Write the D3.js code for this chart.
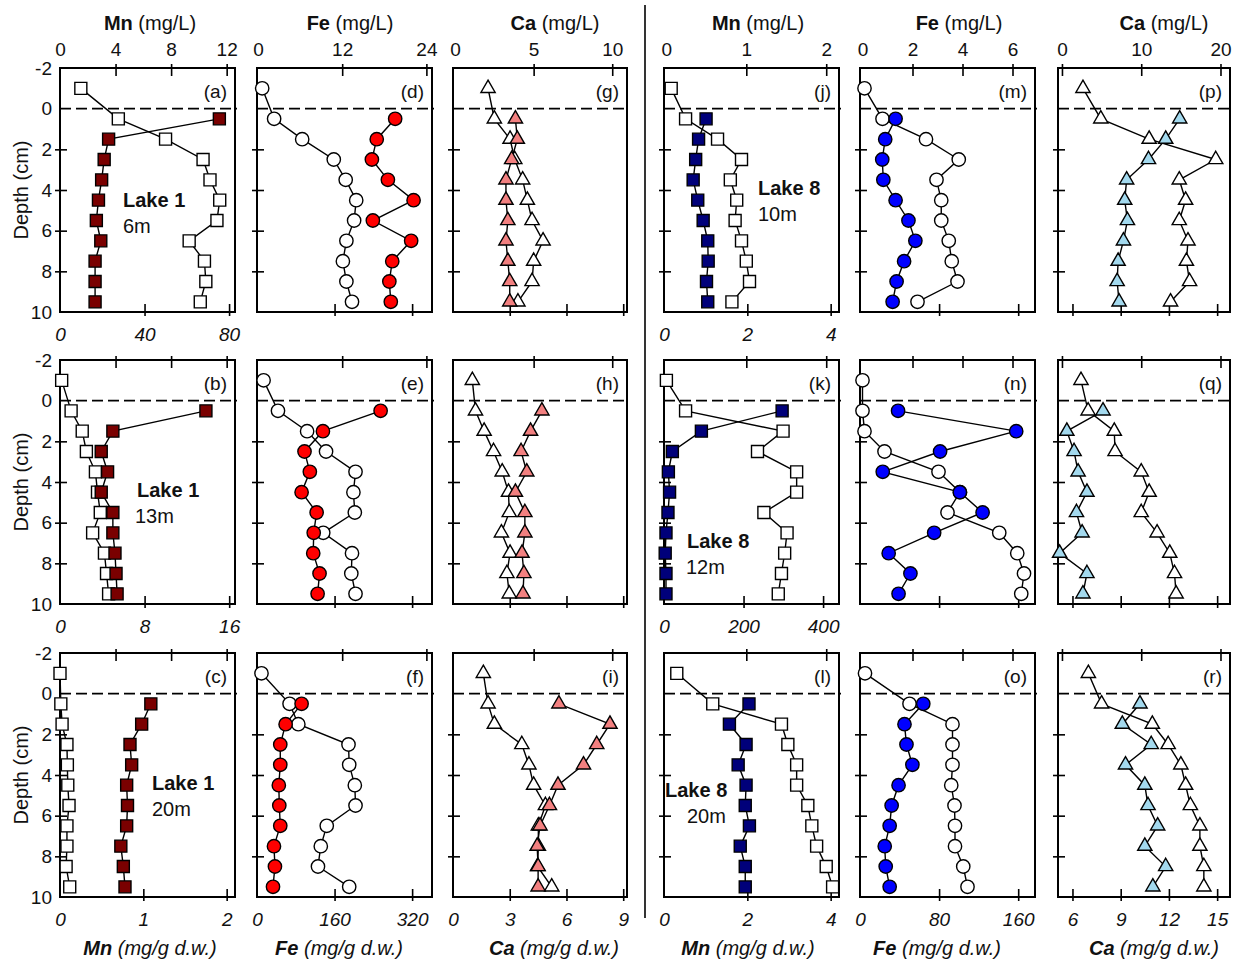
<!DOCTYPE html>
<html>
<head>
<meta charset="utf-8">
<script src="https://cdn.jsdelivr.net/npm/d3@7"></script>
<style>
  body { margin: 0; background: #fff; }
  svg text { font-family: "Liberation Sans", Arial, Helvetica, sans-serif; fill: #111; }
</style>
</head>
<body>
<div id="chart"></div>
<script>
// sampling depths (cm); porewater has an extra overlying-water sample at -1 cm
const depthPore = [-1, 0.5, 1.5, 2.5, 3.5, 4.5, 5.5, 6.5, 7.5, 8.5, 9.5];
const depthSed = [0.5, 1.5, 2.5, 3.5, 4.5, 5.5, 6.5, 7.5, 8.5, 9.5];

// Lake 1, 6 m  (pore = open symbols / top axis, sed = filled symbols / bottom axis)
const l1m6MnPore = [1.5, 4.2, 7.6, 10.3, 10.8, 11.5, 11.3, 9.3, 10.4, 10.5, 10.1];
const l1m6MnSed = [75.4, 23, 20.9, 19.7, 18.2, 17.2, 19.3, 16.6, 16.6, 16.6];
const l1m6FePore = [0.6, 2.3, 6.3, 10.8, 12.5, 14.0, 13.7, 12.6, 12.1, 12.6, 13.4];
const l1m6FeSed = [285, 247, 237, 270, 323, 239, 318, 279, 273, 276];
const l1m6CaPore = [2.1, 2.5, 3.5, 3.8, 4.3, 4.6, 4.9, 5.6, 5.0, 4.9, 4.0];
const l1m6CaSed = [3.3, 3.4, 3.1, 2.8, 2.8, 2.9, 2.8, 2.9, 3.0, 3.0];

// Lake 1, 13 m
const l1m13MnPore = [0.12, 0.8, 1.6, 1.9, 2.55, 2.7, 2.9, 2.35, 3.2, 3.35, 3.5];
const l1m13MnSed = [13.8, 5.0, 3.9, 4.5, 3.9, 5.0, 5.0, 5.2, 5.3, 5.4];
const l1m13FePore = [0.8, 2.85, 7.0, 9.7, 13.9, 13.6, 13.8, 9.3, 13.4, 13.3, 13.9];
const l1m13FeSed = [255, 136, 98, 109, 92, 123, 117, 116, 129, 125];
const l1m13CaPore = [1.1, 1.3, 1.85, 2.45, 3.0, 3.4, 3.45, 2.95, 3.5, 3.3, 3.45];
const l1m13CaSed = [4.7, 4.1, 3.6, 3.9, 3.3, 3.8, 3.8, 3.65, 3.75, 3.7];

// Lake 1, 20 m
const l1m20MnPore = [0, 0.06, 0.15, 0.5, 0.53, 0.56, 0.65, 0.5, 0.5, 0.44, 0.7];
const l1m20MnSed = [1.09, 0.98, 0.84, 0.86, 0.80, 0.81, 0.80, 0.73, 0.76, 0.78];
const l1m20FePore = [0.5, 4.5, 5.75, 12.9, 13.0, 13.8, 13.9, 9.8, 8.95, 8.55, 13.0];
const l1m20FeSed = [92, 59, 48, 48, 45, 46, 48, 35, 37, 33];
const l1m20CaPore = [1.8, 2.1, 2.5, 4.25, 4.7, 5.0, 5.75, 5.3, 5.3, 5.25, 6.15];
const l1m20CaSed = [5.6, 8.3, 7.6, 6.9, 5.55, 5.1, 4.6, 4.45, 4.5, 4.5];

// Lake 8, 10 m
const l8m10MnPore = [0.06, 0.24, 0.64, 0.94, 0.8, 0.88, 0.86, 0.94, 1.0, 1.04, 0.82];
const l8m10MnSed = [1.01, 0.83, 0.76, 0.70, 0.81, 0.94, 1.05, 1.06, 1.02, 1.05];
const l8m10FePore = [0.08, 0.8, 2.54, 3.85, 2.96, 3.15, 3.15, 3.45, 3.57, 3.8, 2.2];
const l8m10FeSed = [36, 25.5, 22.5, 23.6, 36, 49, 56, 44.6, 37, 33];
const l8m10CaPore = [2.65, 4.9, 11.0, 19.4, 14.8, 15.6, 14.8, 15.9, 15.7, 16.1, 13.7];
const l8m10CaSed = [12.67, 11.8, 10.73, 9.37, 9.25, 9.42, 9.17, 8.84, 8.78, 8.9];

// Lake 8, 12 m
const l8m12MnPore = [0, 0.24, 1.46, 1.14, 1.63, 1.63, 1.22, 1.51, 1.48, 1.44, 1.40];
const l8m12MnSed = [297, 94, 21, 11, 14, 10, 5, 3, 5, 5];
const l8m12FePore = [0, 0, 0.08, 0.88, 3.04, 3.9, 3.4, 5.47, 6.19, 6.46, 6.35];
const l8m12FeSed = [38.5, 158, 81, 23, 101, 124, 75, 29, 51, 39];
const l8m12CaPore = [2.4, 3.3, 6.6, 6.7, 10, 11, 10, 12, 13.6, 14.2, 14.4];
const l8m12CaSed = [7.9, 5.65, 6.1, 6.35, 6.9, 6.25, 6.6, 5.2, 6.9, 6.65];

// Lake 8, 20 m
const l8m20MnPore = [0.13, 0.58, 1.44, 1.52, 1.63, 1.63, 1.77, 1.82, 1.88, 2.0, 2.08];
const l8m20MnSed = [2.04, 1.57, 1.97, 1.78, 1.97, 1.95, 2.05, 1.83, 1.95, 1.95];
const l8m20FePore = [0.1, 1.88, 3.6, 3.6, 3.6, 3.55, 3.68, 3.7, 3.7, 4.03, 4.2];
const l8m20FeSed = [64, 45, 47, 53, 39, 32, 30, 25, 26, 30];
const l8m20CaPore = [3.33, 5.0, 11.4, 13.4, 15.0, 15.6, 16.2, 17.4, 17.4, 17.9, 17.9];
const l8m20CaSed = [10.2, 9.1, 10.9, 9.3, 10.5, 10.7, 11.3, 10.5, 11.8, 11.0];

// axis tick labels
const depthTicks = [-2, 0, 2, 4, 6, 8, 10];
const topTicksL1 = { Mn: [0, 4, 8, 12], Fe: [0, 12, 24], Ca: [0, 5, 10] };
const topTicksL8 = { Mn: [0, 1, 2], Fe: [0, 2, 4, 6], Ca: [0, 10, 20] };

// ---------------------------------------------------------------
const width = 1237, height = 961;
const colX = [60, 257, 453, 664, 860, 1058];
const colW = [175, 175, 174, 175, 175, 172];
const rowTop = [68, 360, 653];
const rowH = 244;

const columns = [
  { el: "Mn", fill: "#7a0000", shape: d3.symbolSquare, size: 144, top: [0, 12.6], topTicks: topTicksL1.Mn, titleX: 150, botTitleX: 150 },
  { el: "Fe", fill: "#ff0000", shape: d3.symbolCircle, size: 140, top: [-0.14, 24.8], topTicks: topTicksL1.Fe, titleX: 350, botTitleX: 339 },
  { el: "Ca", fill: "#f28080", shape: d3.symbolTriangle, size: 88, top: [-0.13, 10.94], topTicks: topTicksL1.Ca, titleX: 555, botTitleX: 554 },
  { el: "Mn", fill: "#00007a", shape: d3.symbolSquare, size: 144, top: [-0.03, 2.16], topTicks: topTicksL8.Mn, titleX: 758, botTitleX: 748 },
  { el: "Fe", fill: "#0000ff", shape: d3.symbolCircle, size: 140, top: [-0.1, 6.9], topTicks: topTicksL8.Fe, titleX: 959, botTitleX: 937 },
  { el: "Ca", fill: "#a3d9ee", shape: d3.symbolTriangle, size: 88, top: [-0.5, 21.2], topTicks: topTicksL8.Ca, titleX: 1164, botTitleX: 1154 }
];

const panels = [
  { id: "a", col: 0, row: 0, pore: l1m6MnPore, sed: l1m6MnSed, bot: [0, 82.8], botTicks: [0, 40, 80], botLabels: true, lake: ["Lake 1", "6m", 123, 200, 123] },
  { id: "b", col: 0, row: 1, pore: l1m13MnPore, sed: l1m13MnSed, bot: [0, 16.55], botTicks: [0, 8, 16], botLabels: true, lake: ["Lake 1", "13m", 137, 490, 135] },
  { id: "c", col: 0, row: 2, pore: l1m20MnPore, sed: l1m20MnSed, bot: [0, 2.1], botTicks: [0, 1, 2], botLabels: true, lake: ["Lake 1", "20m", 152, 783, 152] },
  { id: "d", col: 1, row: 0, pore: l1m6FePore, sed: l1m6FeSed, bot: [0, 361], botTicks: [0, 160, 320], botLabels: false },
  { id: "e", col: 1, row: 1, pore: l1m13FePore, sed: l1m13FeSed, bot: [0, 361], botTicks: [0, 160, 320], botLabels: false },
  { id: "f", col: 1, row: 2, pore: l1m20FePore, sed: l1m20FeSed, bot: [0, 361], botTicks: [0, 160, 320], botLabels: true },
  { id: "g", col: 2, row: 0, pore: l1m6CaPore, sed: l1m6CaSed, bot: [0, 9.2], botTicks: [0, 3, 6, 9], botLabels: false },
  { id: "h", col: 2, row: 1, pore: l1m13CaPore, sed: l1m13CaSed, bot: [0, 9.2], botTicks: [0, 3, 6, 9], botLabels: false },
  { id: "i", col: 2, row: 2, pore: l1m20CaPore, sed: l1m20CaSed, bot: [0, 9.2], botTicks: [0, 3, 6, 9], botLabels: true },
  { id: "j", col: 3, row: 0, pore: l8m10MnPore, sed: l8m10MnSed, bot: [0, 4.2], botTicks: [0, 2, 4], botLabels: true, lake: ["Lake 8", "10m", 758, 188, 758] },
  { id: "k", col: 3, row: 1, pore: l8m12MnPore, sed: l8m12MnSed, bot: [0, 440], botTicks: [0, 200, 400], botLabels: true, lake: ["Lake 8", "12m", 687, 541, 686] },
  { id: "l", col: 3, row: 2, pore: l8m20MnPore, sed: l8m20MnSed, bot: [0, 4.2], botTicks: [0, 2, 4], botLabels: true, lake: ["Lake 8", "20m", 665, 790, 687] },
  { id: "m", col: 4, row: 0, pore: l8m10FePore, sed: l8m10FeSed, bot: [0, 177], botTicks: [0, 80, 160], botLabels: false },
  { id: "n", col: 4, row: 1, pore: l8m12FePore, sed: l8m12FeSed, bot: [0, 177], botTicks: [0, 80, 160], botLabels: false },
  { id: "o", col: 4, row: 2, pore: l8m20FePore, sed: l8m20FeSed, bot: [0, 177], botTicks: [0, 80, 160], botLabels: true },
  { id: "p", col: 5, row: 0, pore: l8m10CaPore, sed: l8m10CaSed, bot: [5.1, 15.8], botTicks: [6, 9, 12, 15], botLabels: false },
  { id: "q", col: 5, row: 1, pore: l8m12CaPore, sed: l8m12CaSed, bot: [5.1, 15.8], botTicks: [6, 9, 12, 15], botLabels: false },
  { id: "r", col: 5, row: 2, pore: l8m20CaPore, sed: l8m20CaSed, bot: [5.1, 15.8], botTicks: [6, 9, 12, 15], botLabels: true }
];

const svg = d3.select("#chart").append("svg")
  .attr("width", width)
  .attr("height", height);

const fontTick = 19;
const plain = d => String(d);

function styleAxis(g) {
  g.attr("font-size", null).attr("font-family", null);
  g.select(".domain").remove();
  g.selectAll(".tick line").attr("stroke", "#000").attr("stroke-width", 1.6);
  g.selectAll(".tick text").style("font-size", fontTick + "px").attr("fill", "#111");
}

panels.forEach(p => {
  const c = columns[p.col];
  const x0 = colX[p.col], w = colW[p.col];
  const y0 = rowTop[p.row];

  const y = d3.scaleLinear().domain([-2, 10]).range([y0, y0 + rowH]);
  const xTop = d3.scaleLinear().domain(c.top).range([x0, x0 + w]);
  const xBot = d3.scaleLinear().domain(p.bot).range([x0, x0 + w]);

  const g = svg.append("g").attr("class", "panel panel-" + p.id);

  // frame
  g.append("rect")
    .attr("x", x0).attr("y", y0).attr("width", w).attr("height", rowH)
    .attr("fill", "none").attr("stroke", "#000").attr("stroke-width", 2);

  // depth ticks (inward, crossing frame)
  const left = g.append("g").attr("transform", `translate(${x0},0)`)
    .call(d3.axisLeft(y).tickValues([2, 4, 6, 8]).tickSize(-7).tickFormat(""));
  styleAxis(left);
  left.selectAll(".tick line").attr("x1", -5);

  if (p.col === 0) {
    const lab = g.append("g").attr("transform", `translate(${x0},0)`)
      .call(d3.axisLeft(y).tickValues(depthTicks).tickSize(0).tickPadding(8).tickFormat(plain));
    styleAxis(lab);
    lab.selectAll(".tick line").remove();
  }

  // top axis (porewater, mg/L)
  const top = g.append("g").attr("transform", `translate(0,${y0})`)
    .call(d3.axisTop(xTop).tickValues(c.topTicks.filter(v => v > c.top[0] + 0.3)).tickSize(-8).tickFormat(""));
  styleAxis(top);
  top.selectAll(".tick line").attr("y1", -4);
  if (p.row === 0) {
    const tl = g.append("g").attr("transform", `translate(0,${y0})`)
      .call(d3.axisTop(xTop).tickValues(c.topTicks).tickSize(0).tickPadding(12).tickFormat(plain));
    styleAxis(tl);
    tl.selectAll(".tick line").remove();
  }

  // bottom axis (sediment, mg/g d.w.)
  const bot = g.append("g").attr("transform", `translate(0,${y0 + rowH})`)
    .call(d3.axisBottom(xBot).tickValues(p.botTicks.filter(v => v > p.bot[0] + 0.02 * (p.bot[1] - p.bot[0]))).tickSize(-8).tickFormat(""));
  styleAxis(bot);
  bot.selectAll(".tick line").attr("y1", 4);
  if (p.botLabels) {
    const bl = g.append("g").attr("transform", `translate(0,${y0 + rowH})`)
      .call(d3.axisBottom(xBot).tickValues(p.botTicks).tickSize(0).tickPadding(16).tickFormat(plain));
    styleAxis(bl);
    bl.selectAll(".tick line").remove();
    bl.selectAll(".tick text").style("font-style", "italic");
  }

  // sediment-water interface
  g.append("line")
    .attr("x1", x0).attr("x2", x0 + w + 2)
    .attr("y1", y(0)).attr("y2", y(0))
    .attr("stroke", "#000").attr("stroke-width", 1.6)
    .attr("stroke-dasharray", "11,5");

  // panel letter
  g.append("text")
    .attr("x", x0 + w - 8).attr("y", y0 + 23)
    .attr("dy", "0.35em")
    .attr("text-anchor", "end")
    .style("font-size", "19px")
    .text(`(${p.id})`);

  const line = d3.line().x(d => d.x).y(d => y(d.depth));
  const symbol = d3.symbol().type(c.shape).size(c.size);

  const poreData = p.pore.map((v, i) => ({ x: xTop(v), depth: depthPore[i] }));
  const sedData = p.sed.map((v, i) => ({ x: xBot(v), depth: depthSed[i] }));

  // porewater: open symbols
  g.append("path").datum(poreData)
    .attr("d", line).attr("fill", "none").attr("stroke", "#000").attr("stroke-width", 1.4);
  g.selectAll("path.pore").data(poreData).enter().append("path")
    .attr("class", "pore")
    .attr("d", symbol)
    .attr("transform", d => `translate(${d.x},${y(d.depth)})`)
    .attr("fill", "#fff").attr("stroke", "#000").attr("stroke-width", 1.4);

  // sediment: filled symbols
  g.append("path").datum(sedData)
    .attr("d", line).attr("fill", "none").attr("stroke", "#000").attr("stroke-width", 1.4);
  g.selectAll("path.sed").data(sedData).enter().append("path")
    .attr("class", "sed")
    .attr("d", symbol)
    .attr("transform", d => `translate(${d.x},${y(d.depth)})`)
    .attr("fill", c.fill).attr("stroke", "#000").attr("stroke-width", 1.4);

  // lake / station label
  if (p.lake) {
    g.append("text")
      .attr("x", p.lake[2]).attr("y", p.lake[3]).attr("dy", "0.35em")
      .style("font-size", "20px").style("font-weight", "bold")
      .text(p.lake[0]);
    g.append("text")
      .attr("x", p.lake[4]).attr("y", p.lake[3] + 26).attr("dy", "0.35em")
      .style("font-size", "20px")
      .text(p.lake[1]);
  }
});

// depth axis titles
rowTop.forEach(t => {
  svg.append("text")
    .attr("transform", `translate(28,${t + rowH / 2}) rotate(-90)`)
    .attr("text-anchor", "middle")
    .style("font-size", "20px")
    .text("Depth (cm)");
});

// column titles
columns.forEach(c => {
  const tt = svg.append("text")
    .attr("x", c.titleX).attr("y", 30)
    .attr("text-anchor", "middle")
    .style("font-size", "20px");
  tt.append("tspan").style("font-weight", "bold").text(c.el);
  tt.append("tspan").text(" (mg/L)");

  const bt = svg.append("text")
    .attr("x", c.botTitleX).attr("y", 955)
    .attr("text-anchor", "middle")
    .style("font-size", "20px").style("font-style", "italic");
  bt.append("tspan").style("font-weight", "bold").text(c.el);
  bt.append("tspan").text(" (mg/g d.w.)");
});

// divider between lakes
svg.append("line")
  .attr("x1", 645).attr("x2", 645).attr("y1", 5).attr("y2", 918)
  .attr("stroke", "#000").attr("stroke-width", 1.6);
</script>
</body>
</html>
